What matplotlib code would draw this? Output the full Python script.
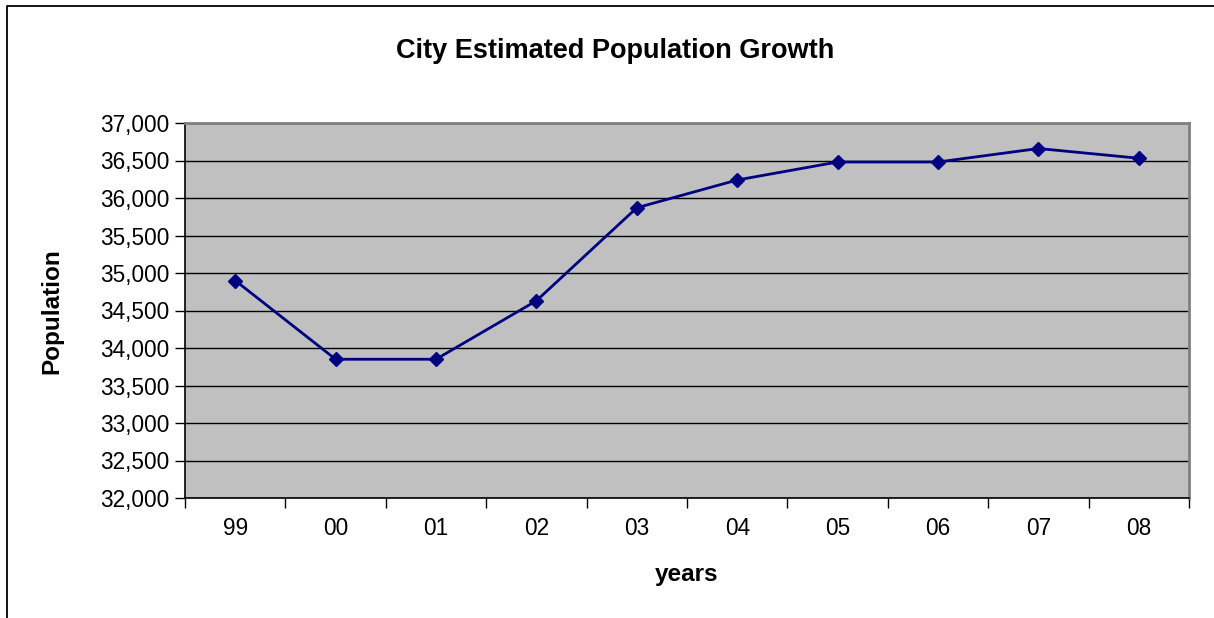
import matplotlib
matplotlib.use("Agg")
import matplotlib.pyplot as plt
from matplotlib.lines import Line2D
from matplotlib.ticker import FuncFormatter, MultipleLocator

# данные
years = ["99", "00", "01", "02", "03", "04", "05", "06", "07", "08"]
population = [34900, 33850, 33850, 34630, 35870, 36240, 36480, 36480, 36660, 36530]

plt.rcParams["font.family"] = ["Liberation Sans", "DejaVu Sans"]

W, H = 1214, 618
fig = plt.figure(figsize=(W / 100, H / 100), dpi=100)
ax = fig.add_axes([185 / W, 1 - 498 / H, (1189 - 185) / W, (498 - 123) / H])

# рамка вокруг всей диаграммы (видны только левый и верхний края)
fig.lines.append(Line2D([7 / W, 7 / W, 1.2], [-0.2, 1 - 6 / H, 1 - 6 / H],
                        transform=fig.transFigure, color="black", linewidth=1.3))

ax.set_facecolor("#c0c0c0")
x = list(range(len(years)))
ax.plot(x, population, color="#000080", linewidth=2,
        marker="D", markersize=7.5, zorder=3)

ax.set_xlim(-0.5, len(years) - 0.5)
ax.set_ylim(32000, 37000)
ax.yaxis.set_major_locator(MultipleLocator(500))
ax.yaxis.set_major_formatter(FuncFormatter(lambda v, p: f"{int(v):,}"))
ax.grid(axis="y", color="black", linewidth=1.0)
ax.set_axisbelow(True)

ax.set_xticks([i - 0.5 for i in range(len(years) + 1)])
ax.set_xticklabels([])
ax.set_xticks(x, minor=True)
ax.set_xticklabels(years, minor=True)
ax.tick_params(axis="x", which="minor", length=0, pad=14, labelsize=16.3)
ax.tick_params(axis="x", which="major", length=7, width=1, color="black", direction="out")
ax.tick_params(axis="y", length=7, width=1, labelsize=16.3, pad=4)

for s in ("left", "bottom"):
    ax.spines[s].set_color("black")
    ax.spines[s].set_linewidth(1.2)
for s in ("top", "right"):
    ax.spines[s].set_color("#808080")
    ax.spines[s].set_linewidth(2)

fig.text(615 / W, 1 - 51 / H, "City Estimated Population Growth",
         ha="center", va="center", fontsize=19.5, fontweight="bold")
fig.text(52 / W, 1 - 311 / H, "Population", rotation=90,
         ha="center", va="center", fontsize=17.5, fontweight="bold")
fig.text(687 / W, 1 - 575 / H, "years",
         ha="center", va="center", fontsize=17.5, fontweight="bold")

fig.savefig("out.png", dpi=100)
